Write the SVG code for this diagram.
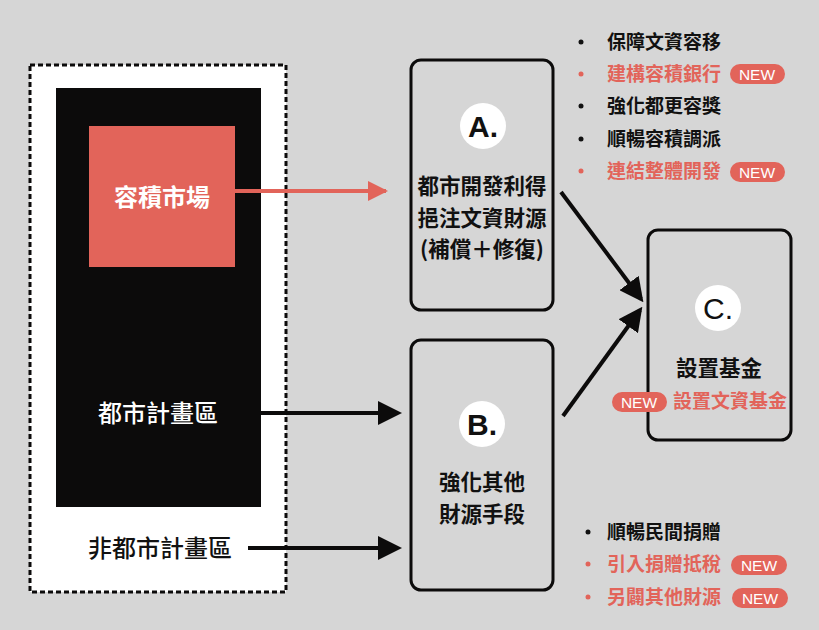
<svg xmlns="http://www.w3.org/2000/svg" width="819" height="630" viewBox="0 0 819 630">
<defs>
<marker id="ab" markerWidth="6" markerHeight="6" refX="5" refY="3" orient="auto" markerUnits="strokeWidth"><path d="M0,0 L6,3 L0,6 Z" fill="#0c0b0b"/></marker>
<marker id="ar" markerWidth="5" markerHeight="5" refX="4.5" refY="2.5" orient="auto" markerUnits="strokeWidth"><path d="M0,0 L5,2.5 L0,5 Z" fill="#e2645a"/></marker>
<style>
.t{font-family:"Noto Sans CJK TC","Noto Sans CJK SC",sans-serif}
.box{fill:none;stroke:#0c0b0b;stroke-width:3}
.nt{font-size:21.5px;font-weight:bold;fill:#111;text-anchor:middle}
.circ{fill:#fff}
.lt{font-family:"Liberation Sans",Arial,sans-serif;font-size:30px;font-weight:bold;fill:#111;text-anchor:middle}
.li{font-size:19px;font-weight:bold;fill:#111}
.red{fill:#e2645a}
.badge{fill:#e2645a}
.bt{font-family:"Liberation Sans",Arial,sans-serif;font-size:15.5px;fill:#fff;text-anchor:middle}
.ln{stroke:#0c0b0b;stroke-width:4;fill:none}
.big{font-size:24px;font-weight:500;text-anchor:middle}
</style>
</defs>
<rect width="819" height="630" fill="#d6d6d6"/>
<g id="region">
<rect x="30" y="65" width="256" height="527" fill="#fff" stroke="#0c0b0b" stroke-width="3" stroke-dasharray="5,3"/>
<text class="t big" x="160" y="557" fill="#111">非都市計畫區</text>
</g>
<g id="urban">
<rect x="56" y="88" width="205" height="419" fill="#0c0b0b"/>
<text class="t big" x="158" y="422" fill="#fff">都市計畫區</text>
</g>
<g id="market">
<rect x="89" y="126" width="146" height="141" fill="#e2645a"/>
<text class="t big" x="162" y="206" fill="#fff" style="font-weight:bold">容積市場</text>
</g>
<g id="nodeA">
<rect class="box" x="411" y="60" width="142" height="250" rx="10"/>
<circle class="circ" cx="483" cy="126" r="23"/>
<text class="lt" x="483" y="137">A.</text>
<text class="t nt" x="482" y="194">都市開發利得</text>
<text class="t nt" x="482" y="226">挹注文資財源</text>
<text class="t nt" x="482" y="257">(補償＋修復)</text>
</g>
<g id="nodeB">
<rect class="box" x="411" y="340" width="142" height="250" rx="10"/>
<circle class="circ" cx="482" cy="424" r="23"/>
<text class="lt" x="482" y="435">B.</text>
<text class="t nt" x="482" y="490">強化其他</text>
<text class="t nt" x="482" y="522">財源手段</text>
</g>
<g id="nodeC">
<rect class="box" x="648" y="230" width="143" height="210" rx="10"/>
<circle class="circ" cx="718" cy="308" r="23"/>
<text class="lt" x="718" y="319" style="font-weight:normal">C.</text>
<text class="t nt" x="719" y="376">設置基金</text>
<rect class="badge" x="612" y="392" width="55" height="20" rx="10"/>
<text class="bt" x="639" y="407.5">NEW</text>
<text class="t li red" x="673" y="408">設置文資基金</text>
</g>
<g id="listTop" class="t">
<circle cx="581" cy="42" r="2.5" fill="#111"/>
<text class="li" x="607" y="48.5">保障文資容移</text>
<circle cx="581" cy="74" r="2.5" fill="#e2645a"/>
<text class="li red" x="607" y="80.5">建構容積銀行</text>
<rect class="badge" x="730" y="64" width="55" height="20" rx="10"/>
<text class="bt" x="757" y="79.5">NEW</text>
<circle cx="581" cy="106" r="2.5" fill="#111"/>
<text class="li" x="607" y="112.5">強化都更容獎</text>
<circle cx="581" cy="139" r="2.5" fill="#111"/>
<text class="li" x="607" y="145.5">順暢容積調派</text>
<circle cx="581" cy="171" r="2.5" fill="#e2645a"/>
<text class="li red" x="607" y="177.5">連結整體開發</text>
<rect class="badge" x="730" y="162" width="55" height="20" rx="10"/>
<text class="bt" x="757" y="177.5">NEW</text>
</g>
<g id="listBottom" class="t">
<circle cx="588" cy="532" r="2.5" fill="#111"/>
<text class="li" x="607" y="538.5">順暢民間捐贈</text>
<circle cx="588" cy="564" r="2.5" fill="#e2645a"/>
<text class="li red" x="607" y="570.5">引入捐贈抵稅</text>
<rect class="badge" x="731" y="555" width="56" height="20" rx="10"/>
<text class="bt" x="759" y="570.5">NEW</text>
<circle cx="588" cy="597" r="2.5" fill="#e2645a"/>
<text class="li red" x="607" y="603.5">另闢其他財源</text>
<rect class="badge" x="732" y="588" width="56" height="20" rx="10"/>
<text class="bt" x="760" y="603.5">NEW</text>
</g>
<g id="connectors">
<line x1="235" y1="191" x2="386" y2="191" stroke="#e2645a" stroke-width="4" marker-end="url(#ar)"/>
<line class="ln" x1="261" y1="413" x2="398" y2="413" marker-end="url(#ab)"/>
<line class="ln" x1="248" y1="548" x2="398" y2="548" marker-end="url(#ab)"/>
<line class="ln" x1="561" y1="192" x2="641" y2="299" marker-end="url(#ab)"/>
<line class="ln" x1="563" y1="416" x2="640" y2="310" marker-end="url(#ab)"/>
</g>
</svg>
